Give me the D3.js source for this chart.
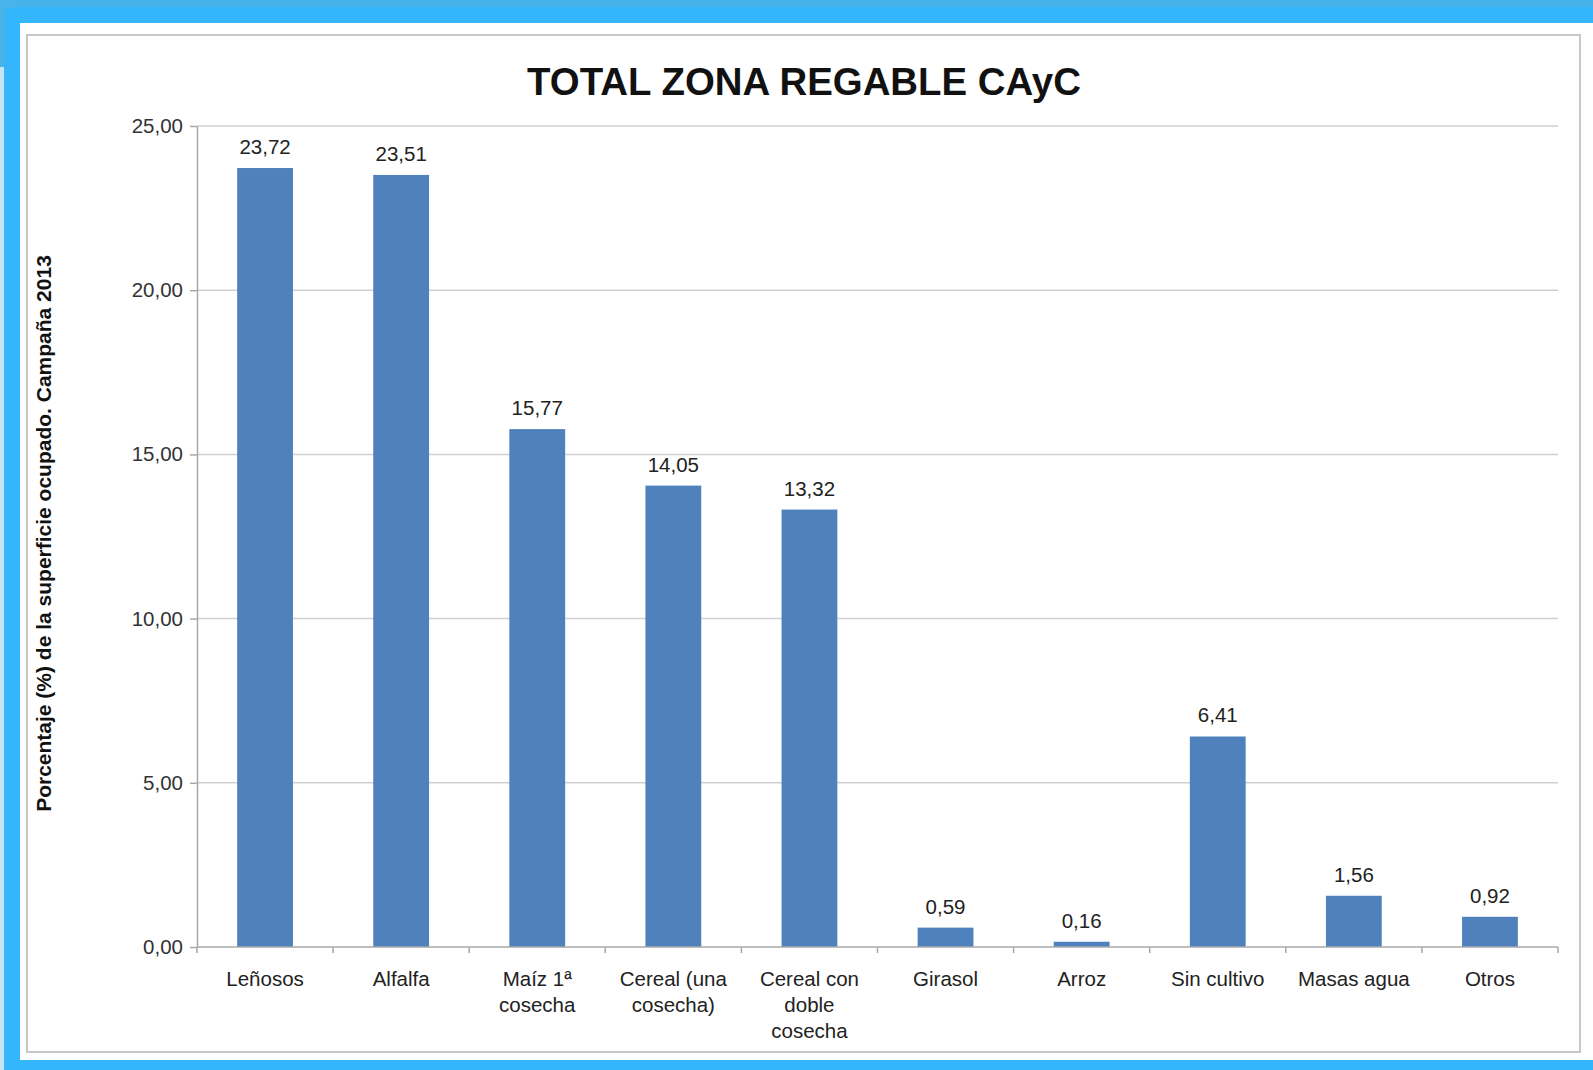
<!DOCTYPE html>
<html>
<head>
<meta charset="utf-8">
<script src="https://cdn.jsdelivr.net/npm/d3@7"></script>
<style>
    body { margin: 0; padding: 0; overflow: hidden; }
    text { font-family: "Liberation Sans", Arial, sans-serif; }
</style>
</head>
<body>
<div id="visualization"></div>
<script>
const width = 1593;
const height = 1070;
const margin = {top: 126, right: 35, bottom: 123, left: 197};

// data
const categories = ["Leñosos", "Alfalfa", "Maíz 1ª cosecha", "Cereal (una cosecha)",
    "Cereal con doble cosecha", "Girasol", "Arroz", "Sin cultivo", "Masas agua", "Otros"];
const categoryLines = [["Leñosos"], ["Alfalfa"], ["Maíz 1ª", "cosecha"], ["Cereal (una", "cosecha)"],
    ["Cereal con", "doble", "cosecha"], ["Girasol"], ["Arroz"], ["Sin cultivo"], ["Masas agua"], ["Otros"]];
const values = [23.72, 23.51, 15.77, 14.05, 13.32, 0.59, 0.16, 6.41, 1.56, 0.92];
const yTicks = [0, 5, 10, 15, 20, 25];
const title = "TOTAL ZONA REGABLE CAyC";
const yLabel = "Porcentaje (%) de la superficie ocupado. Campaña 2013";

const locale = d3.formatLocale({decimal: ",", thousands: ".", grouping: [3], currency: ["", "€"]});
const fmt = locale.format(".2f");
const labelSize = 20.5;

document.addEventListener('DOMContentLoaded', function() {
    const innerWidth = width - margin.left - margin.right;
    const innerHeight = height - margin.top - margin.bottom;

    const svg = d3.select('#visualization')
        .append('svg')
        .attr('width', width)
        .attr('height', height);

    drawFrame(svg);

    const g = svg.append('g')
        .attr('transform', `translate(${margin.left},${margin.top})`);

    const xScale = d3.scaleBand()
        .domain(categories)
        .range([0, innerWidth])
        .paddingInner(0.59)
        .paddingOuter(0.295);
    const yScale = d3.scaleLinear().domain([0, 25]).range([innerHeight, 0]);

    drawGrid(g, yScale, innerWidth);
    drawBars(g, xScale, yScale);
    drawAxes(g, xScale, yScale, innerWidth, innerHeight);

    svg.append('text')
        .attr('x', 804)
        .attr('y', 95)
        .attr('text-anchor', 'middle')
        .attr('font-size', 38.4)
        .attr('font-weight', 'bold')
        .attr('fill', '#111')
        .text(title);

    svg.append('text')
        .attr('transform', `translate(51, ${margin.top + innerHeight / 2 - 3}) rotate(-90)`)
        .attr('text-anchor', 'middle')
        .attr('font-size', 21)
        .attr('font-weight', 'bold')
        .attr('fill', '#111')
        .text(yLabel);
});

function drawFrame(svg) {
    svg.append('rect').attr('width', width).attr('height', height).attr('fill', '#47b3e8');
    svg.append('rect')
        .attr('x', 5).attr('y', 7)
        .attr('width', width + 50).attr('height', height)
        .attr('rx', 8)
        .attr('fill', '#33b6fc');
    svg.append('rect')
        .attr('x', 0).attr('y', 67)
        .attr('width', 4).attr('height', height - 67)
        .attr('fill', '#c2e5f8');
    svg.append('rect')
        .attr('x', 20).attr('y', 23)
        .attr('width', width - 20).attr('height', 1037)
        .attr('fill', 'white');
    svg.append('rect')
        .attr('x', 27).attr('y', 35)
        .attr('width', 1553).attr('height', 1017)
        .attr('fill', 'none')
        .attr('stroke', '#c8c8c8')
        .attr('stroke-width', 2);
}

function drawGrid(g, yScale, innerWidth) {
    g.append('g')
        .selectAll('line')
        .data(yTicks.filter(d => d > 0))
        .enter().append('line')
        .attr('x1', 0)
        .attr('x2', innerWidth)
        .attr('y1', d => yScale(d))
        .attr('y2', d => yScale(d))
        .attr('stroke', '#cfcfcf')
        .attr('stroke-width', 1.5);
}

function drawBars(g, xScale, yScale) {
    g.selectAll('.bar')
        .data(values)
        .enter().append('rect')
        .attr('class', 'bar')
        .attr('x', (d, i) => xScale(categories[i]))
        .attr('y', d => yScale(d))
        .attr('width', xScale.bandwidth())
        .attr('height', d => yScale(0) - yScale(d))
        .attr('fill', '#4f81bd');

    g.selectAll('.value-label')
        .data(values)
        .enter().append('text')
        .attr('class', 'value-label')
        .attr('x', (d, i) => xScale(categories[i]) + xScale.bandwidth() / 2)
        .attr('y', d => yScale(d) - 14)
        .attr('text-anchor', 'middle')
        .attr('font-size', labelSize)
        .attr('fill', '#222')
        .text(d => fmt(d));
}

function drawAxes(g, xScale, yScale, innerWidth, innerHeight) {
    const yAxis = g.append('g')
        .call(d3.axisLeft(yScale)
            .tickValues(yTicks)
            .tickSize(7)
            .tickSizeOuter(0)
            .tickPadding(7)
            .tickFormat(fmt));
    yAxis.select('.domain').attr('stroke', '#a8a8a8').attr('stroke-width', 1.5);
    yAxis.selectAll('.tick line').attr('stroke', '#a8a8a8').attr('stroke-width', 1.5);
    yAxis.selectAll('.tick text')
        .attr('font-family', '"Liberation Sans", Arial, sans-serif')
        .attr('font-size', labelSize)
        .attr('fill', '#333');

    g.append('line')
        .attr('x1', 0).attr('x2', innerWidth)
        .attr('y1', innerHeight).attr('y2', innerHeight)
        .attr('stroke', '#a8a8a8')
        .attr('stroke-width', 1.5);

    // tick marks sit on the band boundaries
    g.selectAll('.x-tick')
        .data(d3.range(categories.length + 1))
        .enter().append('line')
        .attr('class', 'x-tick')
        .attr('x1', i => i * xScale.step())
        .attr('x2', i => i * xScale.step())
        .attr('y1', innerHeight)
        .attr('y2', innerHeight + 6)
        .attr('stroke', '#a8a8a8')
        .attr('stroke-width', 1.5);

    const labels = g.selectAll('.cat-label')
        .data(categories)
        .enter().append('text')
        .attr('class', 'cat-label')
        .attr('x', d => xScale(d) + xScale.bandwidth() / 2)
        .attr('y', innerHeight + 39)
        .attr('text-anchor', 'middle')
        .attr('font-size', labelSize)
        .attr('fill', '#222');

    labels.selectAll('tspan')
        .data((d, i) => categoryLines[i])
        .enter().append('tspan')
        .attr('x', function() { return this.parentNode.getAttribute('x'); })
        .attr('dy', (d, i) => i === 0 ? 0 : 26)
        .text(d => d);
}
</script>
</body>
</html>
